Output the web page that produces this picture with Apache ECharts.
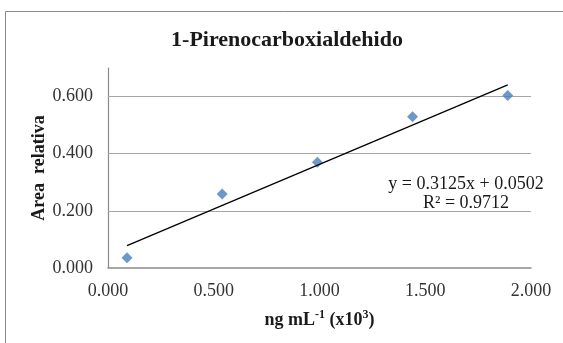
<!DOCTYPE html>
<html>
<head>
<meta charset="utf-8">
<script src="https://cdn.jsdelivr.net/npm/echarts@6/dist/echarts.min.js"></script>
<style>
  html, body { margin: 0; padding: 0; background: #fff; }
  #chart { width: 563px; height: 343px; }
</style>
</head>
<body>
<div id="chart"></div>
<script>
// concentration (ng mL-1 x10^3) and relative area
var xValues = [0.09, 0.54, 0.99, 1.44, 1.89];
var yValues = [0.036, 0.259, 0.370, 0.529, 0.604];
// linear fit shown on the chart
var fitSlope = [0.3125];
var fitIntercept = [0.0502];
var fitLabels = ['y = 0.3125x + 0.0502', 'R² = 0.9712'];
var yGridValues = [0.2, 0.4, 0.6];

var points = xValues.map(function (x, i) { return [x, yValues[i]]; });
var xMin = Math.min.apply(null, xValues);
var xMax = Math.max.apply(null, xValues);
var trend = [xMin, xMax].map(function (x) { return [x, fitSlope[0] * x + fitIntercept[0]]; });

var serif = '"Liberation Serif", "Times New Roman", serif';
var chart = echarts.init(document.getElementById('chart'));

chart.setOption({
    animation: false,
    backgroundColor: '#fff',
    grid: { left: 108, right: 32, top: 68, bottom: 75 },
    xAxis: {
        type: 'value',
        min: 0,
        max: 2,
        interval: 0.5,
        name: '{b|ng mL}{s|-1}{b| (x10}{s|3}{b|)}',
        nameLocation: 'middle',
        nameGap: 41,
        nameMoveOverlap: false,
        nameTextStyle: {
            rich: {
                b: { fontFamily: serif, fontWeight: 'bold', fontSize: 18, color: '#1a1a1a', lineHeight: 20, verticalAlign: 'bottom' },
                s: { fontFamily: serif, fontWeight: 'bold', fontSize: 12, color: '#1a1a1a', lineHeight: 20, verticalAlign: 'top', padding: [0, 0, 7, 0] }
            }
        },
        axisLine: { lineStyle: { color: '#8a8a8a', width: 1.5 } },
        axisTick: { show: false },
        splitLine: { show: false },
        axisLabel: {
            margin: 14,
            fontFamily: serif,
            fontSize: 18,
            color: '#333',
            formatter: function (v) { return v.toFixed(3); }
        }
    },
    yAxis: {
        type: 'value',
        min: 0,
        max: 0.7,
        interval: 0.2,
        name: 'Area  relativa',
        nameLocation: 'middle',
        nameGap: 60,
        nameMoveOverlap: false,
        nameTextStyle: { fontFamily: serif, fontWeight: 'bold', fontSize: 18, color: '#1a1a1a' },
        axisLine: { show: true, lineStyle: { color: '#8a8a8a', width: 1.2 } },
        axisTick: { show: false },
        splitLine: { show: false },
        axisLabel: {
            margin: 15,
            showMaxLabel: false,
            fontFamily: serif,
            fontSize: 18,
            color: '#333',
            formatter: function (v) { return v.toFixed(3); }
        }
    },
    graphic: [
        {
            type: 'rect',
            shape: { x: 5.5, y: 11.5, width: 700, height: 500 },
            style: { fill: 'none', stroke: '#8a8a8a', lineWidth: 1 },
            silent: true
        },
        {
            type: 'text',
            x: 287,
            y: 40,
            style: { text: '1-Pirenocarboxialdehido', fontFamily: serif, fontWeight: 'bold', fontSize: 22, fill: '#1a1a1a', align: 'center', verticalAlign: 'middle' }
        },
        {
            type: 'text',
            x: 466,
            y: 184,
            style: { text: fitLabels[0], fontFamily: serif, fontSize: 18, fill: '#1a1a1a', align: 'center', verticalAlign: 'middle' }
        },
        {
            type: 'text',
            x: 466,
            y: 203,
            style: { text: fitLabels[1], fontFamily: serif, fontSize: 18, fill: '#1a1a1a', align: 'center', verticalAlign: 'middle' }
        }
    ],
    series: [
        {
            type: 'scatter',
            data: points,
            symbol: 'diamond',
            symbolSize: 11,
            itemStyle: { color: '#4a7ebb' },
            z: 3,
            markLine: {
                silent: true,
                symbol: 'none',
                label: { show: false },
                lineStyle: { color: '#a6a6a6', width: 1, type: 'solid' },
                data: yGridValues.map(function (v) { return { yAxis: v }; }),
                z: 1
            }
        },
        {
            type: 'line',
            data: trend,
            showSymbol: false,
            symbol: 'none',
            lineStyle: { color: '#000', width: 1.3 },
            z: 4
        }
    ]
});
</script>
</body>
</html>
